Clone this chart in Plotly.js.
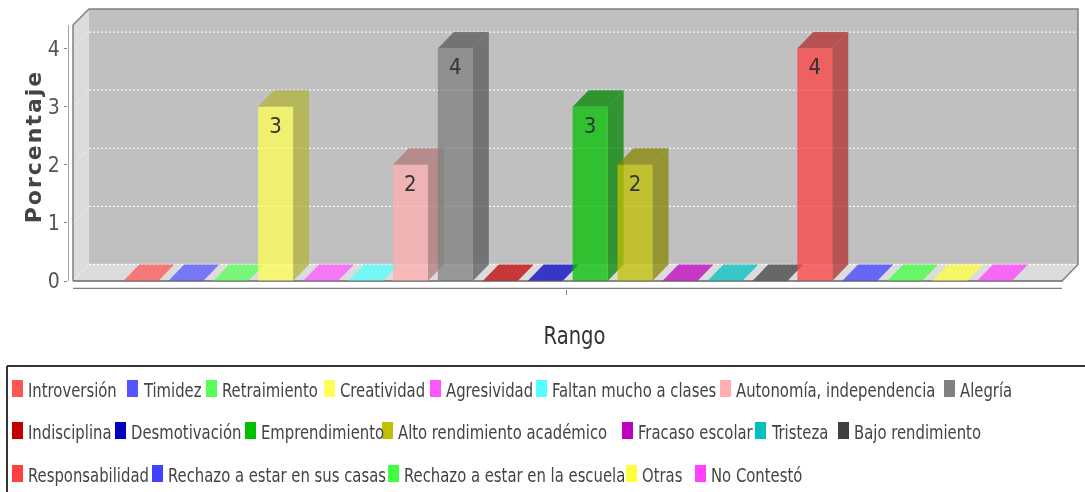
<!DOCTYPE html>
<html><head><meta charset="utf-8">
<script src="https://cdn.plot.ly/plotly-3.0.1.min.js"></script>
<style>html,body{margin:0;padding:0;background:#fff}#c{width:1085px;height:492px;filter:blur(0.4px)}
.annotation-text{transform-box:fill-box;transform-origin:left center;transform:scaleX(.825)}
.xtitle{transform-box:fill-box;transform-origin:center center;transform:scaleX(.87)}
.ytitle{letter-spacing:2px}
</style>
</head><body><div id="c"></div>
<script>
// ---- data ----
const categories = ["Introversión","Timidez","Retraimiento","Creatividad","Agresividad","Faltan mucho a clases","Autonomía, independencia","Alegría","Indisciplina","Desmotivación","Emprendimiento","Alto rendimiento académico","Fracaso escolar","Tristeza","Bajo rendimiento","Responsabilidad","Rechazo a estar en sus casas","Rechazo a estar en la escuela","Otras","No Contestó"];
const values = [0,0,0,3,0,0,2,4,0,0,3,2,0,0,0,4,0,0,0,0];
const seriesColors = [[255,85,85],[85,85,255],[85,255,85],[255,255,85],[255,85,255],[85,255,255],[255,175,175],[128,128,128],[192,0,0],[0,0,192],[0,192,0],[192,192,0],[192,0,192],[0,192,192],[64,64,64],[255,64,64],[64,64,255],[64,255,64],[255,255,64],[255,64,255]];
const yTicks = [0,1,2,3,4];
const yTitle = "Porcentaje", xTitle = "Rango";

// ---- layout geometry (pixels on the page) ----
const W=1085,H=492, L=68,R=1081,T=4,B=289;
const Y0=281, UNIT=58.1, X0=140.8, STEP=44.93, BARW=35, DX=16, DY=16.5;
const FL=73, FR=1062, BL=89, BR=1078, WT=9;
const xr=[(L-X0)/STEP,(R-X0)/STEP], yr=[(Y0-B)/UNIT,(Y0-T)/UNIT];
const dx=DX/STEP, dy=DY/UNIT, bw=BARW/STEP;
const px=p=>(p-X0)/STEP, py=p=>(Y0-p)/UNIT;
const paperX=p=>(p-L)/(R-L), paperY=p=>(B-p)/(B-T);
const rgba=(c,a,k=1)=>`rgba(${c.map(v=>Math.round(v*k)).join(",")},${a})`;
const poly=pts=>"M"+pts.map(q=>q[0]+","+q[1]).join("L")+"Z";
const ALPHA=0.75, GRAY="#808080";

const shapes=[];
const fillShape=(pts,color,layer="below")=>shapes.push({type:"path",xref:"x",yref:"y",layer,path:poly(pts),fillcolor:color,line:{width:0}});
const pxPts=a=>a.map(q=>[px(q[0]),py(q[1])]);
// walls and floor
fillShape(pxPts([[BL,WT],[BR,WT],[BR,Y0-DY],[BL,Y0-DY]]),"#c0c0c0");
fillShape(pxPts([[FL,WT+DX],[BL,WT],[BL,Y0-DY],[FL,Y0]]),"#dcdcdc");
fillShape(pxPts([[FL,Y0],[BL,Y0-DY],[BR,Y0-DY],[FR,Y0]]),"#dcdcdc");
// gridlines on back and side wall
yTicks.forEach(t=>{
  shapes.push({type:"line",layer:"below",xref:"x",yref:"y",x0:px(BL),x1:px(BR),y0:t+dy,y1:t+dy,line:{color:"rgba(255,255,255,0.9)",width:1.3,dash:"2px,2px"}});
  shapes.push({type:"line",layer:"below",xref:"x",yref:"y",x0:px(FL),x1:px(BL),y0:t,y1:t+dy,line:{color:"rgba(255,255,255,0.7)",width:1,dash:"2px,2px"}});
});
// wall outline
shapes.push({type:"path",layer:"below",xref:"x",yref:"y",path:"M"+pxPts([[FL,Y0],[FL,WT+DX],[BL,WT],[BR,WT],[BR,Y0-DY],[FR,Y0],[FL,Y0]]).map(q=>q.join(",")).join("L"),line:{color:GRAY,width:1.5}});
// bar side, top faces and zero-height floor marks
values.forEach((v,i)=>{
  const a=i-bw/2,b=i+bw/2,c=seriesColors[i];
  if(v>0){
    fillShape([[b,0],[b+dx,dy],[b+dx,v+dy],[b,v]],rgba(c,ALPHA,0.7));
    fillShape([[a,v],[a+dx,v+dy],[b+dx,v+dy],[b,v]],rgba(c,ALPHA,0.7));
  }else{
    fillShape([[a,0],[a+dx,dy],[b+dx,dy],[b,0]],rgba(c,ALPHA));
  }
});
// baseline over the bars, axes lines
shapes.push({type:"line",layer:"above",xref:"x",yref:"y",x0:px(FL),x1:px(FR),y0:0,y1:0,line:{color:"rgba(110,110,110,0.8)",width:1.2}});
shapes.push({type:"line",layer:"above",xref:"x",yref:"y",x0:px(L),x1:px(L),y0:py(WT+DX),y1:0,line:{color:GRAY,width:1.5}});
shapes.push({type:"line",layer:"above",xref:"x",yref:"y",x0:px(FL),x1:px(FR),y0:py(B),y1:py(B),line:{color:GRAY,width:2.5}});

// ---- legend (real text with swatches) ----
const legendRows=[389,431,474];
const legendX=[[12,127,206,324,430,536,720,944],[12,115,245,382,622,755,838],[12,152,388,626,695]];
const narrow="DejaVu Sans Condensed, sans-serif";
const annotations=[];
let idx=0;
legendRows.forEach((ry,r)=>legendX[r].forEach(sx=>{
  const c=seriesColors[idx];
  shapes.push({type:"rect",xref:"paper",yref:"paper",x0:paperX(sx),x1:paperX(sx+11),y0:paperY(ry-9),y1:paperY(ry+8),fillcolor:rgba(c,1),line:{width:0}});
  annotations.push({xref:"paper",yref:"paper",x:paperX(sx+15),y:paperY(ry),xanchor:"left",yanchor:"middle",showarrow:false,text:categories[idx],font:{family:narrow,size:20,color:"#444"},borderpad:0});
  idx++;
}));
// legend frame
shapes.push({type:"line",xref:"paper",yref:"paper",x0:paperX(7),x1:paperX(1085),y0:paperY(366),y1:paperY(366),line:{color:"#333",width:2}});
shapes.push({type:"line",xref:"paper",yref:"paper",x0:paperX(7),x1:paperX(7),y0:paperY(366),y1:paperY(492),line:{color:"#333",width:2}});

const traces=[
 {type:"bar",x:values.map((_,i)=>i),y:values,width:bw,marker:{color:seriesColors.map(c=>rgba(c,ALPHA)),line:{width:0}},hovertext:categories,hoverinfo:"text+y",showlegend:false},
 {type:"scatter",mode:"text",x:values.map((_,i)=>i),y:values.map(v=>v>0?v-0.35:null),text:values.map(v=>v>0?String(v):""),textposition:"middle center",textfont:{family:narrow,size:22,color:"#333"},hoverinfo:"skip",showlegend:false}
];
const layout={
 width:W,height:H,margin:{l:L,r:W-R,t:T,b:H-B,pad:0},paper_bgcolor:"#fff",plot_bgcolor:"#fff",showlegend:false,
 xaxis:{range:xr,showgrid:false,zeroline:false,showline:false,tickmode:"array",tickvals:[px(566)],ticktext:[""],ticks:"outside",ticklen:5,tickcolor:GRAY,tickwidth:1,
   title:{text:xTitle,font:{family:narrow,size:25,color:"#333"},standoff:30}},
 yaxis:{range:yr,showgrid:false,zeroline:false,showline:false,tickmode:"array",tickvals:yTicks,ticktext:yTicks.map(String),ticks:"outside",ticklen:3,tickcolor:GRAY,tickwidth:1,
   tickfont:{family:narrow,size:21,color:"#555"},
   title:{text:yTitle,font:{family:"DejaVu Sans",size:22,color:"#444",weight:"bold"},standoff:0}},
 shapes,annotations
};
Plotly.newPlot("c",traces,layout,{displayModeBar:false,staticPlot:true});
</script></body></html>
